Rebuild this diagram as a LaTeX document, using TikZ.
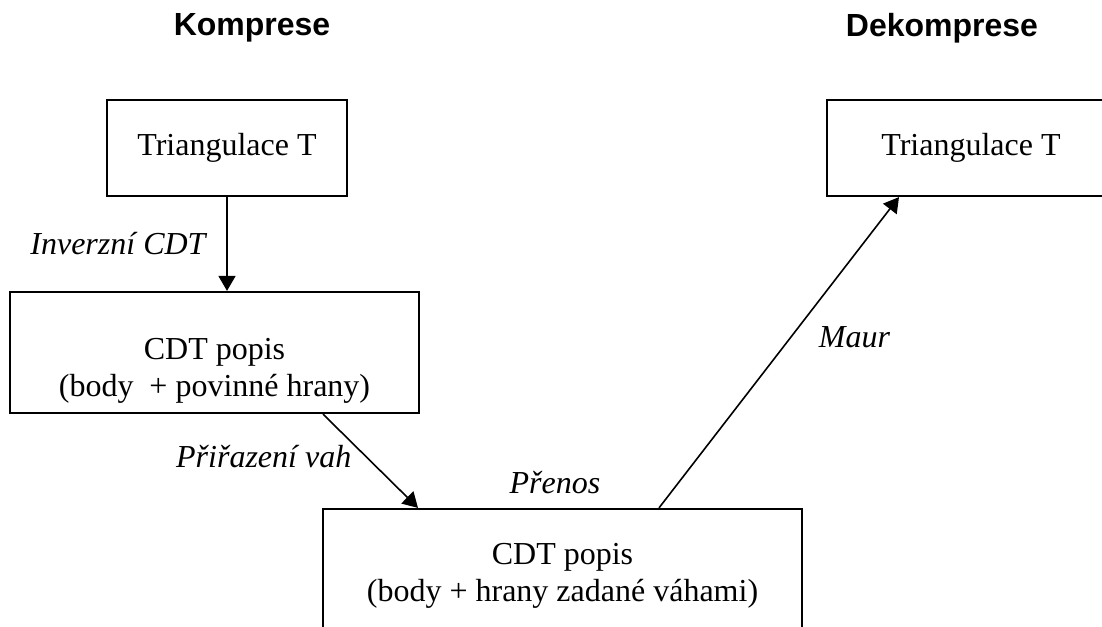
\documentclass[tikz,border=0pt]{standalone}
\usepackage{fontspec}
\setmainfont{Liberation Serif}
\newfontfamily\headfont{Liberation Sans}
\usetikzlibrary{arrows.meta}
\usetikzlibrary{positioning}

\tikzset{
  box/.style={draw, line width=1.1pt, inner sep=0pt},
  arr/.style={line width=0.8pt, -{Triangle[width=8.5pt,length=7.5pt]}},
  lbl/.style={font=\fontsize{16pt}{18.5pt}\selectfont\itshape},
  head/.style={font=\fontsize{16pt}{18.5pt}\selectfont\headfont\bfseries}
}

\begin{document}
\begin{tikzpicture}[x=0.5pt, y=-0.5pt, font=\fontsize{16pt}{18.5pt}\selectfont]

% page as in the original
\useasboundingbox (0,0) rectangle (1102,626);
\clip (0,0) rectangle (1102,626);

%---------------------------------------
% Column titles
%---------------------------------------
\node[head] (komp) at (252,28) {Komprese};
\node[head] (dekomp) at (942,28) {Dekomprese};

%---------------------------------------
% Boxes
%---------------------------------------
\node[box, minimum width=120pt, minimum height=48pt] (triA) at (227,148) {Triangulace T};
\node[box, minimum width=144pt, minimum height=48pt] (triB) at (971,148) {Triangulace T};

\node[box, minimum width=204.5pt, minimum height=60.5pt] (cdtA) at (214.5,352.5) {};
\node[align=center] (cdtAtext) at (214.5,371) {CDT popis\\(body\ \ + povinné hrany)};

% bottom box runs off the page
\node[box, minimum width=239.5pt, minimum height=80pt] (cdtB) at (562.5,589) {};
\node[align=center] (cdtBtext) at (562.5,576) {CDT popis\\(body + hrany zadané váhami)};

%---------------------------------------
% Steps
%---------------------------------------
\draw[arr] (triA.south) -- (triA.south |- cdtA.north)
    node[lbl, midway, left=7pt] {Inverzní CDT};
\draw[arr] ([xshift=54.25pt]cdtA.south) -- ([xshift=-72.25pt]cdtB.north)
    node[lbl, pos=0.45, left=3.5pt] {Přiřazení vah};
\draw[arr] ([xshift=48.25pt]cdtB.north) -- ([xshift=-36pt]triB.south)
    node[lbl, pos=0.548, right=10.5pt] {Maur};

\node[lbl] (prenos) at (555,483) {Přenos};

\end{tikzpicture}
\end{document}
